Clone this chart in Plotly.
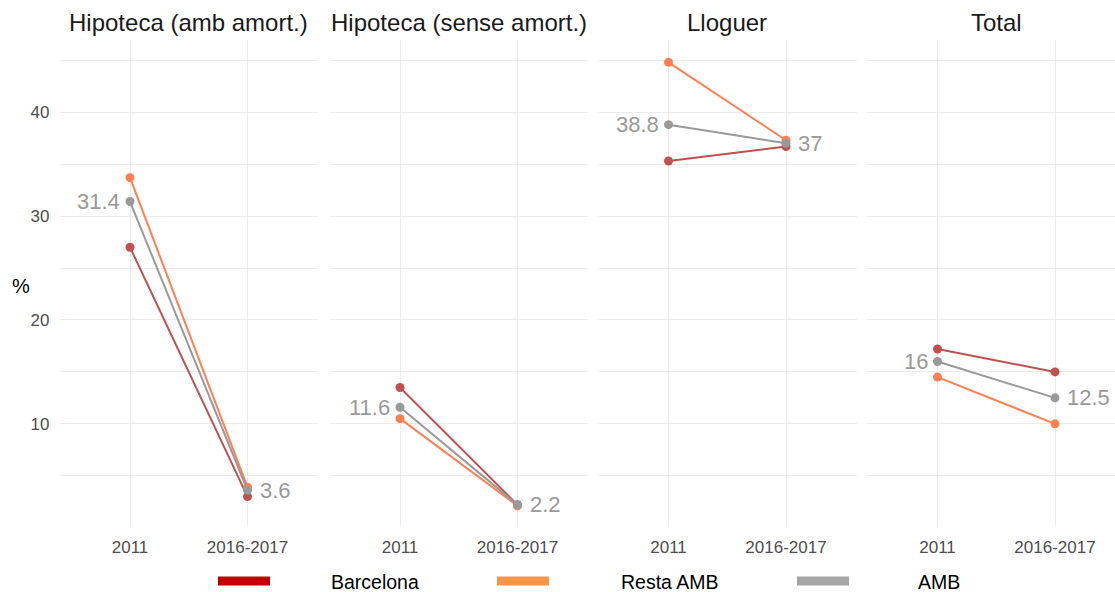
import plotly.graph_objects as go

# ---- data ----
panels = ["Hipoteca (amb amort.)", "Hipoteca (sense amort.)", "Lloguer", "Total"]
periods = ["2011", "2016-2017"]
series_names = ["Barcelona", "Resta AMB", "AMB"]
barcelona = [[27.0, 3.0], [13.5, 2.2], [35.3, 36.7], [17.2, 15.0]]
resta_amb = [[33.7, 3.9], [10.5, 2.1], [44.8, 37.3], [14.5, 10.0]]
amb = [[31.4, 3.6], [11.6, 2.2], [38.8, 37.0], [16.0, 12.5]]
y_ticks = [10, 20, 30, 40]

# ---- style ----
line_colors = {"Barcelona": "#C0504D", "Resta AMB": "#FF7F50", "AMB": "#999999"}
legend_colors = {"Barcelona": "#C00000", "Resta AMB": "#F79646", "AMB": "#A5A5A5"}
W, H = 1115, 592
FONT = "Liberation Sans, Arial, sans-serif"
GRID = "#EBEBEB"

# panel pixel extents (left, right) and x ranges
px_per_unit = 117.5
panel_width = 258.5
panel_lefts = [59.5, 329.5, 598.0, 867.0]
y_top_px, y_bot_px = 40, 527

all_series = {"Barcelona": barcelona, "Resta AMB": resta_amb, "AMB": amb}

fig = go.Figure()
for i, p in enumerate(panels):
    ax = "" if i == 0 else str(i + 1)
    for name in series_names:
        vals = all_series[name][i]
        fig.add_trace(go.Scatter(
            x=[0, 1], y=vals, mode="lines+markers",
            line=dict(color=line_colors[name], width=2),
            marker=dict(color=line_colors[name], size=9),
            xaxis="x" + ax, yaxis="y" + ax, showlegend=False,
            hoverinfo="skip"))
    left = panel_lefts[i]
    right = min(left + panel_width, W)
    xr = [-0.6, -0.6 + (right - left) / px_per_unit]
    xaxis = dict(
        domain=[left / W, right / W], range=xr,
        tickmode="array", tickvals=[0, 1], ticktext=periods,
        showgrid=True, gridcolor=GRID, gridwidth=1, zeroline=False,
        showline=False, ticks="", ticklabelstandoff=8,
        tickfont=dict(family=FONT, size=17, color="#4D4D4D"),
        anchor="y" + ax, fixedrange=True)
    yaxis = dict(
        domain=[(H - y_bot_px) / H, (H - y_top_px) / H],
        range=[0.07, 46.95], tickmode="array", tickvals=y_ticks,
        showgrid=True, gridcolor=GRID, gridwidth=1, zeroline=False,
        showline=False, ticks="", ticklabelstandoff=9,
        showticklabels=(i == 0),
        minor=dict(tickmode="array", tickvals=[5, 15, 25, 35, 45], showgrid=True, gridcolor=GRID, gridwidth=1),
        tickfont=dict(family=FONT, size=17, color="#4D4D4D"),
        anchor="x" + ax, fixedrange=True)
    if i > 0:
        yaxis["matches"] = "y"
    fig.layout["xaxis" + ax] = xaxis
    fig.layout["yaxis" + ax] = yaxis

    # panel title
    fig.add_annotation(
        x=(left + panel_width / 2) / W, y=(H - 23) / H, xref="paper", yref="paper",
        text=p, showarrow=False, xanchor="center", yanchor="middle",
        font=dict(family=FONT, size=24, color="#1A1A1A"))

    # AMB value labels
    fig.add_annotation(
        x=0, y=amb[i][0], xref="x" + ax, yref="y" + ax,
        text=f"{amb[i][0]:g}", showarrow=False, xanchor="right", yanchor="middle",
        xshift=-8, font=dict(family=FONT, size=22, color="#999999"))
    fig.add_annotation(
        x=1, y=amb[i][1], xref="x" + ax, yref="y" + ax,
        text=f"{amb[i][1]:g}", showarrow=False, xanchor="left", yanchor="middle",
        xshift=10, font=dict(family=FONT, size=22, color="#999999"))

# y-axis title
fig.add_annotation(
    x=21 / W, y=(H - 286) / H, xref="paper", yref="paper", text="%",
    showarrow=False, xanchor="center", yanchor="middle",
    font=dict(family=FONT, size=20, color="#000000"))

# manual legend
swatch_x = [218, 497, 797]
text_x = [330, 620, 917]
leg_y = 581
for k, name in enumerate(series_names):
    fig.add_shape(
        type="rect", xref="paper", yref="paper",
        x0=swatch_x[k] / W, x1=(swatch_x[k] + 52) / W,
        y0=(H - leg_y - 4.5) / H, y1=(H - leg_y + 4.5) / H,
        fillcolor=legend_colors[name], line=dict(width=0))
    fig.add_annotation(
        x=text_x[k] / W, y=(H - leg_y - 1) / H, xref="paper", yref="paper",
        text=name, showarrow=False, xanchor="left", yanchor="middle", borderpad=0,
        font=dict(family=FONT, size=19.5, color="#000000"))

fig.update_layout(
    width=W, height=H, margin=dict(l=0, r=0, t=0, b=0),
    paper_bgcolor="white", plot_bgcolor="white", showlegend=False,
    font=dict(family=FONT))

fig.write_html("out.html", config={"displayModeBar": False},
               post_script="document.body.style.margin='0px';document.body.style.overflow='hidden';")
